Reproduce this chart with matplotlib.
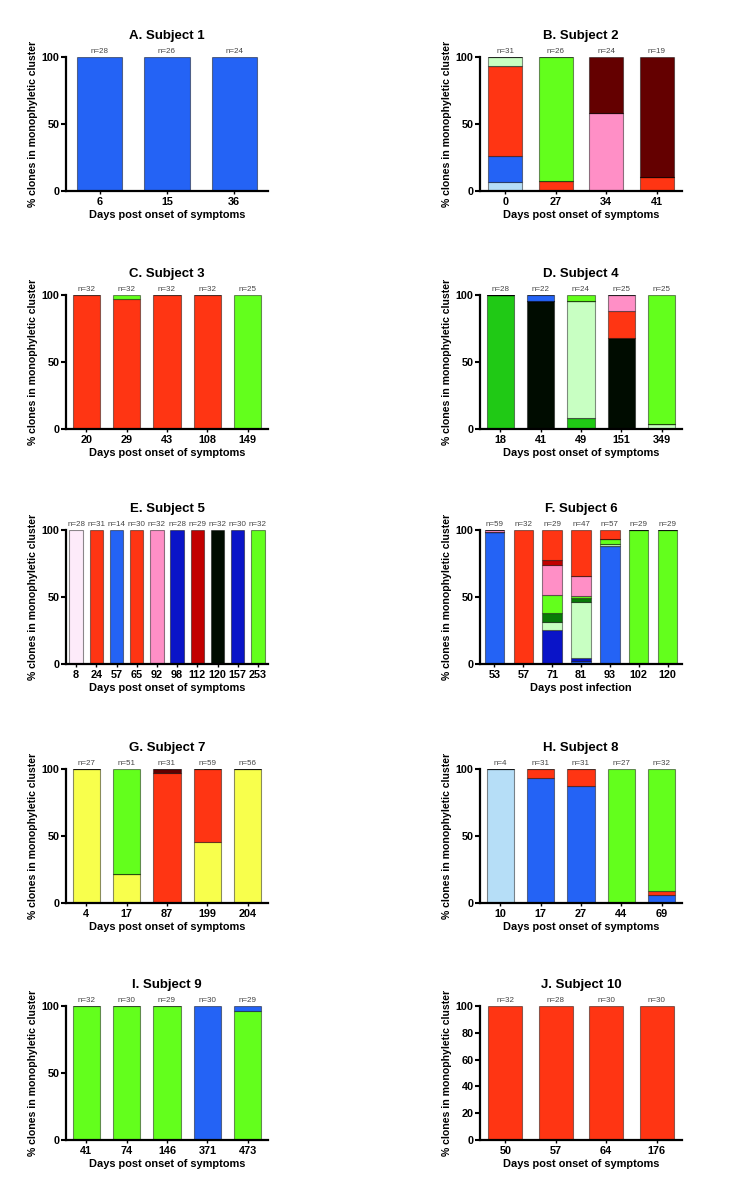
import numpy as np
import matplotlib
matplotlib.use("Agg")
import matplotlib.pyplot as plt

plt.rcParams['font.family'] = ['Liberation Sans', 'DejaVu Sans']

# ----------------------------
# colours of the monophyletic clusters
# ----------------------------
colours = {
    "blue": "#2463F5",
    "lightblue": "#B6DEF7",
    "navy": "#0A14C8",
    "red": "#FF3513",
    "darkred": "#C20000",
    "maroon": "#640000",
    "pink": "#FF8FC6",
    "palepink": "#FDEBFA",
    "lime": "#63FF1C",
    "green": "#20C915",
    "darkgreen": "#087A08",
    "lightgreen": "#C8FFC2",
    "black": "#000C00",
    "yellow": "#F8FF4C",
}

# ----------------------------
# data: days, clone counts, % per cluster (bottom -> top)
# ----------------------------
a_days = [6, 15, 36]
a_n = [28, 26, 24]
a_pct = {"blue": [100, 100, 100]}

b_days = [0, 27, 34, 41]
b_n = [31, 26, 24, 19]
b_pct = {
    "lightblue": [6.5, 0, 0, 0],
    "blue": [19.3, 0, 0, 0],
    "red": [67.7, 7.7, 0, 10.5],
    "pink": [0, 0, 58.3, 0],
    "lightgreen": [6.5, 0, 0, 0],
    "lime": [0, 92.3, 0, 0],
    "maroon": [0, 0, 41.7, 89.5],
}

c_days = [20, 29, 43, 108, 149]
c_n = [32, 32, 32, 32, 25]
c_pct = {
    "red": [100, 96.9, 100, 100, 0],
    "lime": [0, 3.1, 0, 0, 100],
}

d_days = [18, 41, 49, 151, 349]
d_n = [28, 22, 24, 25, 25]
d_pct = {
    "green": [100, 0, 8.3, 0, 0],
    "black": [0, 95.5, 0, 68, 0],
    "lightgreen": [0, 0, 87.5, 0, 4],
    "red": [0, 0, 0, 20, 0],
    "pink": [0, 0, 0, 12, 0],
    "blue": [0, 4.5, 0, 0, 0],
    "lime": [0, 0, 4.2, 0, 96],
}

e_days = [8, 24, 57, 65, 92, 98, 112, 120, 157, 253]
e_n = [28, 31, 14, 30, 32, 28, 29, 32, 30, 32]
e_cols = ["palepink", "red", "blue", "red", "pink", "navy",
          "darkred", "black", "navy", "lime"]

f_days = [53, 57, 71, 81, 93, 102, 120]
f_n = [59, 32, 29, 47, 57, 29, 29]
f_pct = {
    "blue": [98.3, 0, 0, 2.1, 87.7, 0, 0],
    "navy": [0, 0, 25.5, 2.2, 0, 0, 0],
    "lightgreen": [0, 0, 6.2, 42.1, 1.8, 0, 0],
    "darkgreen": [0, 0, 6.7, 3.0, 0, 0, 0],
    "lime": [0, 0, 13.0, 1.7, 3.5, 100, 100],
    "pink": [1.7, 0, 22.7, 14.7, 0, 0, 0],
    "darkred": [0, 0, 3.5, 0, 0, 0, 0],
    "red": [0, 100, 22.4, 34.2, 7.0, 0, 0],
}

g_days = [4, 17, 87, 199, 204]
g_n = [27, 51, 31, 59, 56]
g_pct = {
    "yellow": [100, 21.6, 0, 45.8, 100],
    "red": [0, 0, 96.8, 54.2, 0],
    "maroon": [0, 0, 3.2, 0, 0],
    "lime": [0, 78.4, 0, 0, 0],
}

h_days = [10, 17, 27, 44, 69]
h_n = [4, 31, 31, 27, 32]
h_pct = {
    "lightblue": [100, 0, 0, 0, 0],
    "blue": [0, 93.5, 87.1, 0, 6.2],
    "red": [0, 6.5, 12.9, 0, 3.1],
    "lime": [0, 0, 0, 100, 90.7],
}

i_days = [41, 74, 146, 371, 473]
i_n = [32, 30, 29, 30, 29]
i_pct = {
    "lime": [100, 100, 100, 0, 96.6],
    "blue": [0, 0, 0, 100, 3.4],
}

j_days = [50, 57, 64, 176]
j_n = [32, 28, 30, 30]
j_pct = {"red": [100, 100, 100, 100]}

# ----------------------------
# layout
# ----------------------------
fig = plt.figure(figsize=(7.30, 11.99), dpi=100)

col_left = [66 / 730, 480 / 730]
ax_w = 202 / 730
ax_h = 134 / 1199
row_bottom = [1 - 191 / 1199, 1 - 429 / 1199, 1 - 664 / 1199,
              1 - 903 / 1199, 1 - 1140 / 1199]


def panel(pos, title, days, n, pct=None, cols=None,
          xlabel="Days post onset of symptoms", yticks=(0, 50, 100)):
    r, c = pos
    ax = fig.add_axes([col_left[c], row_bottom[r], ax_w, ax_h])
    x = np.arange(len(days))
    if cols is not None:
        ax.bar(x, [100] * len(days), width=0.67,
               color=[colours[k] for k in cols],
               edgecolor=(0, 0, 0, 0.45), linewidth=0.8)
    else:
        bottom = np.zeros(len(days))
        for key, vals in pct.items():
            vals = np.array(vals, dtype=float)
            ax.bar(x, vals, width=0.67, bottom=bottom, color=colours[key],
                   edgecolor=(0, 0, 0, 0.45), linewidth=0.8)
            bottom += vals

    for xi, ni in zip(x, n):
        ax.annotate(f"n={ni}", (xi, 100), xytext=(0, 1.5),
                    textcoords="offset points", ha="center", va="bottom",
                    fontsize=5.8, color="#444444")

    ax.set_xlim(-0.5, len(days) - 0.5)
    ax.set_ylim(0, 100)
    ax.set_xticks(x)
    ax.set_xticklabels([str(d) for d in days], fontweight="bold", fontsize=7.8)
    ax.set_yticks(yticks)
    ax.set_yticklabels([str(t) for t in yticks], fontweight="bold", fontsize=7.8)
    ax.tick_params(axis="y", direction="out", length=3.5, width=1.5, pad=1)
    ax.tick_params(axis="x", direction="out", length=2.5, width=1.0, pad=2)
    for s in ["top", "right"]:
        ax.spines[s].set_visible(False)
    for s in ["left", "bottom"]:
        ax.spines[s].set_linewidth(1.6)
    ax.set_title(title, fontweight="bold", fontsize=9.5, pad=13)
    ax.set_xlabel(xlabel, fontweight="bold", fontsize=7.9, labelpad=2)
    ax.set_ylabel("% clones in monophyletic cluster", fontweight="bold",
                  fontsize=7.6, labelpad=3)
    return ax


panel((0, 0), "A. Subject 1", a_days, a_n, a_pct)
panel((0, 1), "B. Subject 2", b_days, b_n, b_pct)
panel((1, 0), "C. Subject 3", c_days, c_n, c_pct)
panel((1, 1), "D. Subject 4", d_days, d_n, d_pct)
panel((2, 0), "E. Subject 5", e_days, e_n, cols=e_cols)
panel((2, 1), "F. Subject 6", f_days, f_n, f_pct, xlabel="Days post infection")
panel((3, 0), "G. Subject 7", g_days, g_n, g_pct)
panel((3, 1), "H. Subject 8", h_days, h_n, h_pct)
panel((4, 0), "I. Subject 9", i_days, i_n, i_pct)
panel((4, 1), "J. Subject 10", j_days, j_n, j_pct,
      yticks=(0, 20, 40, 60, 80, 100))

fig.savefig("out.png", dpi=100)
